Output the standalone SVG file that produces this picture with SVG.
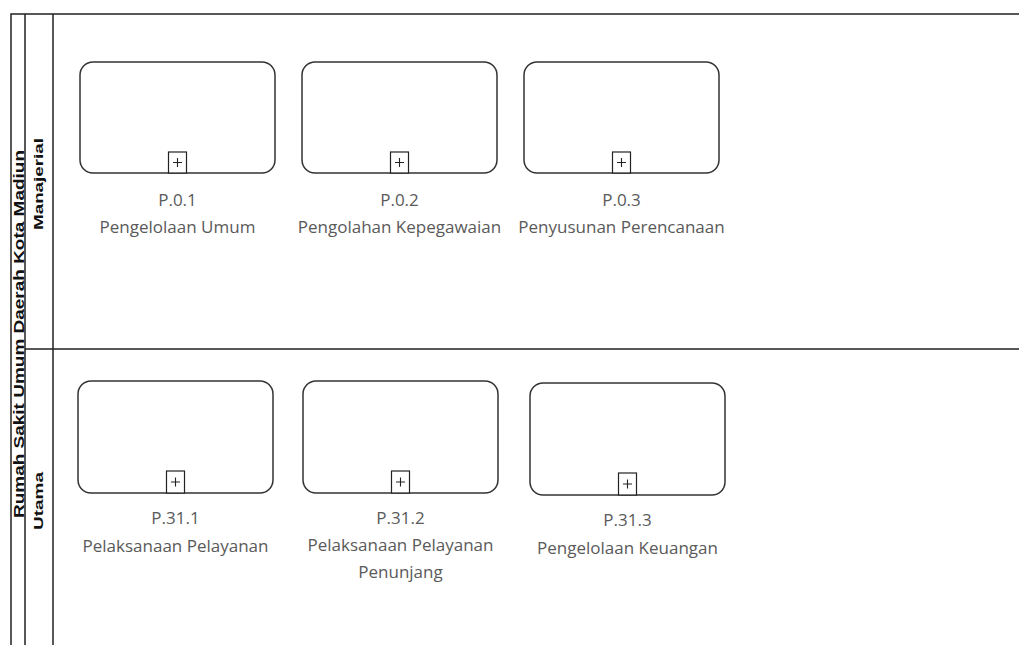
<svg xmlns="http://www.w3.org/2000/svg" width="1019" height="645" viewBox="0 0 1019 645">
<style>
.ln{stroke:#222;stroke-width:1.5;fill:none}
.task{fill:#fff;stroke:#333;stroke-width:1.5}
.mk{fill:#fff;stroke:#222;stroke-width:1.2}
.plus{stroke:#222;stroke-width:1.1}
.lbl{font-family:"Open Sans","Noto Sans",sans-serif;font-size:17px;fill:#5a5a5a;text-anchor:middle}
.pool{font-family:"Liberation Sans",Arial,sans-serif;font-weight:bold;font-size:14px;fill:#111;text-anchor:middle}
.lane{font-family:"Liberation Sans",Arial,sans-serif;font-weight:bold;font-size:13px;fill:#111;text-anchor:middle}
</style>
<rect width="1019" height="645" fill="#fff"/>
<g id="pool">
<path class="ln" d="M11,645 V14 H1019 M25,14 V645 M53,14 V645 M25,349 H1019"/>
<text class="pool" transform="translate(23.5,334) rotate(-90)" textLength="368" lengthAdjust="spacingAndGlyphs">Rumah Sakit Umum Daerah Kota Madiun</text>
</g>
<g id="lane-manajerial">
<text class="lane" transform="translate(43,184) rotate(-90)" textLength="92" lengthAdjust="spacingAndGlyphs">Manajerial</text>
</g>
<g id="lane-utama">
<text class="lane" transform="translate(43,501) rotate(-90)" textLength="58" lengthAdjust="spacingAndGlyphs">Utama</text>
</g>
<g id="connectors"></g>
<g id="p01">
<rect class="task" x="80" y="62" width="195" height="111" rx="13"/>
<rect class="mk" x="168.5" y="152" width="18" height="21"/>
<path class="plus" d="M173,162.5 H182 M177.5,158 V167"/>
<text class="lbl" x="177.5" y="206">P.0.1</text>
<text class="lbl" x="177.5" y="233">Pengelolaan Umum</text>
</g>
<g id="p02">
<rect class="task" x="302" y="62" width="195" height="111" rx="13"/>
<rect class="mk" x="390.5" y="152" width="18" height="21"/>
<path class="plus" d="M395,162.5 H404 M399.5,158 V167"/>
<text class="lbl" x="399.5" y="206">P.0.2</text>
<text class="lbl" x="399.5" y="233">Pengolahan Kepegawaian</text>
</g>
<g id="p03">
<rect class="task" x="524" y="62" width="195" height="111" rx="13"/>
<rect class="mk" x="612.5" y="152" width="18" height="21"/>
<path class="plus" d="M617,162.5 H626 M621.5,158 V167"/>
<text class="lbl" x="621.5" y="206">P.0.3</text>
<text class="lbl" x="621.5" y="233">Penyusunan Perencanaan</text>
</g>
<g id="p311">
<rect class="task" x="78" y="381" width="195" height="112" rx="13"/>
<rect class="mk" x="166.5" y="471" width="18" height="22"/>
<path class="plus" d="M171,482 H180 M175.5,477.5 V486.5"/>
<text class="lbl" x="175.5" y="524">P.31.1</text>
<text class="lbl" x="175.5" y="552">Pelaksanaan Pelayanan</text>
</g>
<g id="p312">
<rect class="task" x="303" y="381" width="195" height="112" rx="13"/>
<rect class="mk" x="391.5" y="471" width="18" height="22"/>
<path class="plus" d="M396,482 H405 M400.5,477.5 V486.5"/>
<text class="lbl" x="400.5" y="524">P.31.2</text>
<text class="lbl" x="400.5" y="551">Pelaksanaan Pelayanan</text>
<text class="lbl" x="400.5" y="578">Penunjang</text>
</g>
<g id="p313">
<rect class="task" x="530" y="383" width="195" height="112" rx="13"/>
<rect class="mk" x="618.5" y="473" width="18" height="22"/>
<path class="plus" d="M623,484 H632 M627.5,479.5 V488.5"/>
<text class="lbl" x="627.5" y="526">P.31.3</text>
<text class="lbl" x="627.5" y="554">Pengelolaan Keuangan</text>
</g>
</svg>
